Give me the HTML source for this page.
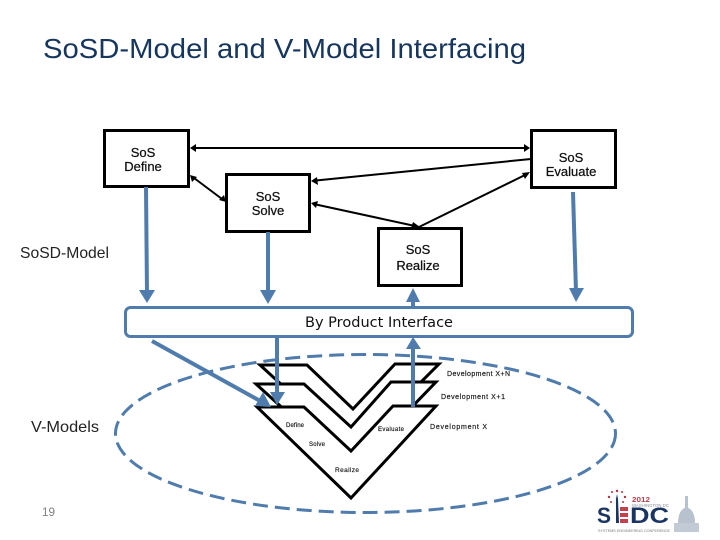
<!DOCTYPE html>
<html>
<head>
<meta charset="utf-8">
<style>
html,body{margin:0;padding:0;background:#fff;width:720px;height:540px;overflow:hidden}
svg{display:block}
text{font-family:"Liberation Sans",sans-serif}
</style>
</head>
<body>
<svg width="720" height="540" viewBox="0 0 720 540" xmlns="http://www.w3.org/2000/svg">
<text x="43" y="58" font-size="27.500" fill="#17365d" textLength="483" lengthAdjust="spacingAndGlyphs">SoSD-Model and V-Model Interfacing</text>

<!-- top boxes -->
<g fill="#fff" stroke="#000" stroke-width="3">
<rect x="104.500" y="130.500" width="84" height="56"/>
<rect x="531.500" y="130.500" width="84" height="57"/>
<rect x="226.500" y="174.500" width="83" height="57"/>
<rect x="378.500" y="228.500" width="83" height="57"/>
</g>
<g font-size="13" fill="#111" text-anchor="middle" stroke="#111" stroke-width="0.25">
<text x="143" y="157">SoS</text><text x="143" y="171">Define</text>
<text x="571" y="162">SoS</text><text x="571" y="176">Evaluate</text>
<text x="268" y="201">SoS</text><text x="268" y="215">Solve</text>
<text x="418" y="254">SoS</text><text x="418" y="270">Realize</text>
</g>

<!-- black connectors -->
<g stroke="#000" stroke-width="2" fill="none">
<line x1="194" y1="148" x2="525" y2="148"/>
<line x1="531" y1="159" x2="316" y2="180.500"/>
<line x1="316" y1="204.500" x2="415" y2="226"/>
<line x1="419" y1="227" x2="525" y2="175"/>
<line x1="194" y1="178" x2="222" y2="199"/>
</g>
<g fill="#000">
<polygon points="190,148 196,144 196,152"/>
<polygon points="530,148 524,144 524,152"/>
<polygon points="311,181 317,177 318,185"/>
<polygon points="311,203 318,201 316,208"/>
<polygon points="420,227 413,222 411,228"/>
<polygon points="530,172 522,173 525,179"/>
<polygon points="190,175 197,177 192,182"/>
<polygon points="226,202 219,200 224,195"/>
</g>

<!-- Vs -->
<g fill="#fff" stroke="#000" stroke-width="3" stroke-linejoin="miter">
<polygon points="260,365 307,365 353,409 395,364 439,364 353,450" />
<polygon points="256,384 304,384 351,427 391,382 436,382 351,470" />
<polygon points="257,407 304,407 351,451 393,406 436,406 351,498" />
</g>
<g font-size="7" fill="#111" stroke="#111" stroke-width="0.15">
<text x="447" y="376" textLength="63" lengthAdjust="spacing">Development X+N</text>
<text x="441" y="399" textLength="64" lengthAdjust="spacing">Development  X+1</text>
<text x="430" y="429" textLength="57" lengthAdjust="spacing">Development  X</text>
<text x="286" y="427" font-size="6" textLength="18">Define</text>
<text x="378" y="431" font-size="6" textLength="26">Evaluate</text>
<text x="309" y="446" font-size="6" textLength="16">Solve</text>
<text x="335" y="472" font-size="6.500" textLength="24">Realize</text>
</g>

<!-- ellipse -->
<ellipse cx="365.500" cy="433.500" rx="250" ry="79" fill="none" stroke="#4f7cac" stroke-width="3" stroke-dasharray="15 7"/>

<!-- interface bar -->
<rect x="125.500" y="307.500" width="507" height="29" rx="5" ry="5" fill="#fff" stroke="#4f7cac" stroke-width="3"/>
<text x="305" y="327" font-size="14" fill="#111" textLength="148" style="font-family:'DejaVu Sans',sans-serif" lengthAdjust="spacingAndGlyphs">By Product Interface</text>

<!-- blue arrows -->
<g stroke="#4f7cac" stroke-width="4" fill="none">
<line x1="146" y1="187" x2="147" y2="294"/>
<line x1="268" y1="232" x2="268" y2="294"/>
<line x1="573" y1="192" x2="576" y2="292"/>
<line x1="413" y1="298" x2="413" y2="306"/>
<line x1="277" y1="336" x2="277" y2="396"/>
<line x1="152" y1="341" x2="262" y2="402"/>
<line x1="413" y1="347" x2="413" y2="407"/>
</g>
<g fill="#4f7cac">
<polygon points="147,303 139,290 155,290"/>
<polygon points="268,304 260,290 276,290"/>
<polygon points="576,302 569,288 584,288"/>
<polygon points="413,288 406,302 420,302"/>
<polygon points="277,405 270,392 285,392"/>
<polygon points="271,407 255,406 263,392"/>
<polygon points="413,337 406,349 421,349"/>
</g>

<text x="20" y="258" font-size="16" fill="#222" textLength="89" lengthAdjust="spacingAndGlyphs">SoSD-Model</text>
<text x="31" y="432" font-size="16" fill="#222" textLength="68" lengthAdjust="spacingAndGlyphs">V-Models</text>
<text x="42" y="516" font-size="12" fill="#7f7f7f" textLength="13" lengthAdjust="spacingAndGlyphs">19</text>

<!-- logo -->
<text x="597" y="523" font-size="22" font-weight="bold" fill="#1b3563" textLength="14" lengthAdjust="spacingAndGlyphs">S</text>
<text x="630" y="523" font-size="22" font-weight="bold" fill="#1b3563" textLength="39" lengthAdjust="spacingAndGlyphs">DC</text>
<rect x="620" y="507" width="8" height="4" fill="#c4414b"/>
<rect x="620" y="513" width="8" height="4" fill="#c4414b"/>
<rect x="620" y="519" width="8" height="4" fill="#c4414b"/>
<polygon points="616,523 616,499 617,494 618,499 619,523" fill="#1b3563"/>
<g fill="#b5333f">
<circle cx="609" cy="497" r="1.200"/><circle cx="617" cy="491" r="1.200"/><circle cx="625" cy="497" r="1.200"/><circle cx="612" cy="492" r="1"/><circle cx="622" cy="492" r="1"/><circle cx="611" cy="502" r="1"/><circle cx="623" cy="502" r="1"/>
</g>
<text x="632" y="502" font-size="7.500" font-weight="bold" fill="#b5434e" textLength="18" lengthAdjust="spacingAndGlyphs">2012</text>
<text x="632" y="507" font-size="4.500" fill="#8a8f99" textLength="37" lengthAdjust="spacingAndGlyphs">WASHINGTON DC</text>
<text x="598" y="532" font-size="4" fill="#777" textLength="72" lengthAdjust="spacingAndGlyphs">SYSTEMS ENGINEERING CONFERENCE</text>
<g fill="#b8c2cf">
<rect x="685" y="496" width="3" height="14"/>
<path d="M678,523 Q678,510 686.500,507 Q695,510 695,523 Z"/>
<rect x="674" y="523" width="25" height="9" fill="#c2cad5"/>
</g>
</svg>
</body>
</html>
